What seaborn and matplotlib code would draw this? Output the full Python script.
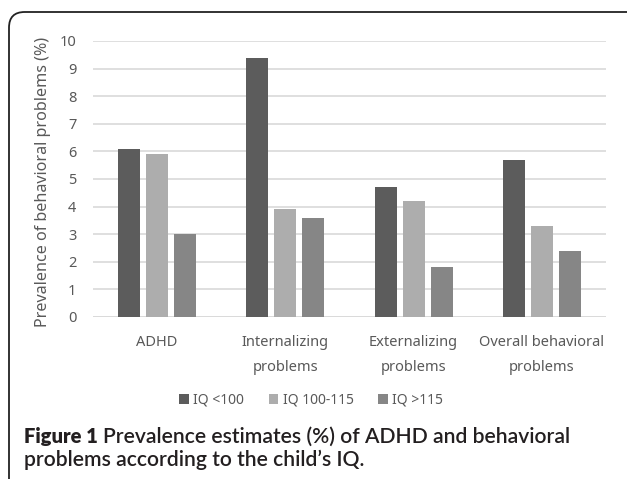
import matplotlib
matplotlib.use("Agg")
import matplotlib.pyplot as plt
import seaborn as sns
import pandas as pd
from matplotlib.patches import FancyBboxPatch, Patch

categories = ["ADHD", "Internalizing\nproblems", "Externalizing\nproblems", "Overall behavioral\nproblems"]
groups = ["IQ <100", "IQ 100-115", "IQ >115"]
iq_lt100 = [6.1, 9.4, 4.7, 5.7]
iq_100_115 = [5.9, 3.9, 4.2, 3.3]
iq_gt115 = [3.0, 3.6, 1.8, 2.4]
yticks = list(range(0, 11))

colors = ["#5c5c5c", "#adadad", "#868686"]

rows = []
for g, vals in zip(groups, [iq_lt100, iq_100_115, iq_gt115]):
    for c, v in zip(categories, vals):
        rows.append({"cat": c, "grp": g, "val": v})
df = pd.DataFrame(rows)

sns.set_theme(style="white")
plt.rcParams["font.family"] = ["Noto Sans", "DejaVu Sans"]

fig = plt.figure(figsize=(6.27, 4.79), dpi=100)
ax = fig.add_axes([93/627, 1-317/479, (606-93)/627, (317-41)/479])

sns.barplot(data=df, x="cat", y="val", hue="grp", palette=colors, ax=ax,
            width=0.656, gap=0.215, dodge=True, saturation=1, legend=False,
            edgecolor="none", errorbar=None)

ax.set_ylim(0, 10)
ax.set_xlim(-0.5, 3.5)
ax.set_yticks(yticks)
ax.set_yticklabels([str(t) for t in yticks])
ax.yaxis.grid(True, color="#d9d9d9", linewidth=1.2)
ax.set_axisbelow(True)
for s in ax.spines.values():
    s.set_visible(False)
ax.axhline(0, color="#d9d9d9", linewidth=1.2, zorder=0)
ax.tick_params(axis="both", length=0, labelsize=10.5, colors="#595959")
ax.tick_params(axis="y", pad=12)
ax.tick_params(axis="x", pad=13)
for lab in ax.get_xticklabels():
    lab.set_linespacing(1.9)
ax.set_xlabel("")
ax.set_ylabel("Prevalence of behavioral problems (%)", fontsize=11.6, color="#595959")
ax.yaxis.set_label_coords(-0.082, 0.49)

handles = [Patch(facecolor=c, edgecolor="none") for c in colors]
fig.legend(handles, groups, loc="center", bbox_to_anchor=(311/627, 1-400/479), ncol=3,
           frameon=False, fontsize=10, handlelength=0.7, handleheight=0.7,
           handletextpad=0.3, columnspacing=1.8, labelcolor="#595959")

# border
border = FancyBboxPatch((9/627, -0.2), 2.0, 1 - 12/479 + 0.2,
                        boxstyle="round,pad=0,rounding_size=0.025",
                        transform=fig.transFigure, fill=False,
                        edgecolor="#222222", linewidth=1.3, mutation_aspect=627/479)
fig.patches.append(border)

# caption
fig.canvas.draw()
r = fig.canvas.get_renderer()
cap_font = ["Lato", "DejaVu Sans"]
y1 = 1 - 443/479
y2 = 1 - 466/479
t1 = fig.text(24/627, y1, "Figure 1", fontsize=14.5, fontweight="heavy",
              family=cap_font, color="#231f20", va="baseline", ha="left")
bb = t1.get_window_extent(r)
fig.text((bb.x1 + 5)/627, y1, "Prevalence estimates (%) of ADHD and behavioral",
         fontsize=15.2, family=cap_font, fontweight="semibold", color="#231f20",
         va="baseline", ha="left")
fig.text(24/627, y2, "problems according to the child\u2019s IQ.", fontsize=15.2,
         family=cap_font, fontweight="semibold", color="#231f20", va="baseline", ha="left")

fig.savefig("out.png", dpi=100)
